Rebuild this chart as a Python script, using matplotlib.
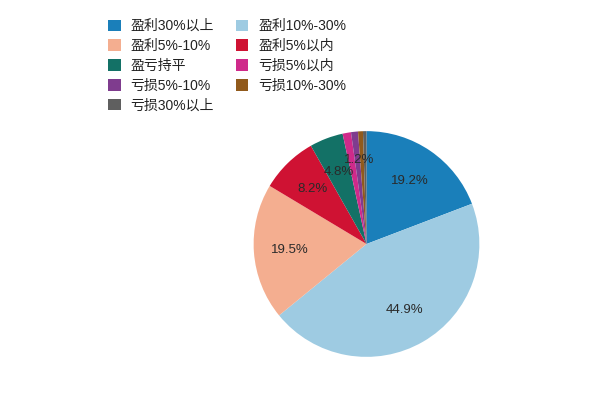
import matplotlib
matplotlib.use("Agg")
import numpy as np
import matplotlib.pyplot as plt
from matplotlib.patches import Patch

plt.rcParams['font.family'] = ['Liberation Sans', 'Noto Sans CJK SC', 'DejaVu Sans']

# 收益分布
labels = ["盈利30%以上", "盈利10%-30%", "盈利5%-10%", "盈利5%以内", "盈亏持平",
          "亏损5%以内", "亏损5%-10%", "亏损10%-30%", "亏损30%以上"]
shares = [19.2, 44.9, 19.5, 8.2, 4.8, 1.2, 1.0, 0.7, 0.5]
colors = ["#1a7fba", "#9ecbe2", "#f4ae90", "#cf1233", "#137166",
          "#cf2a8a", "#7f3c8e", "#915a1c", "#5f5f5f"]

W, H = 613, 393
fig = plt.figure(figsize=(W / 100, H / 100), dpi=100)

cx, cy, r = 366.5, 244, 114
ax = fig.add_axes([(cx - r) / W, (H - cy - r) / H, 2 * r / W, 2 * r / H])

def fmt(p):
    return f"{p:.1f}%" if p >= 1.1 else ""

wedges, texts, autotexts = ax.pie(
    shares, colors=colors, startangle=90, counterclock=False,
    autopct=fmt, pctdistance=0.68, radius=1,
    textprops=dict(fontsize=9.5, color="#2a2a2a"),
    wedgeprops=dict(linewidth=0))

# 小扇区标签往上挪一点，避免和4.8%重叠
for w, t, v in zip(wedges, autotexts, shares):
    if v < 3:
        ang = np.deg2rad((w.theta1 + w.theta2) / 2 - 5)
        t.set_position((0.75 * np.cos(ang), 0.75 * np.sin(ang)))

ax.set_xlim(-1.01, 1.01)
ax.set_ylim(-1.01, 1.01)
ax.set_aspect("equal")

# 图例按行排列
handles = [Patch(facecolor=c, edgecolor="none") for c in colors]
order = [0, 2, 4, 6, 8, 1, 3, 5, 7]
fig.legend([handles[i] for i in order], [labels[i] for i in order],
           ncols=2, loc="upper left", bbox_to_anchor=(97 / W, 1 - 8 / H),
           frameon=False, fontsize=10, handlelength=0.9, handleheight=0.9,
           handletextpad=0.7, labelspacing=0.42, columnspacing=1.6,
           borderpad=0.3, labelcolor="#222222")

fig.savefig("out.png", dpi=100)
